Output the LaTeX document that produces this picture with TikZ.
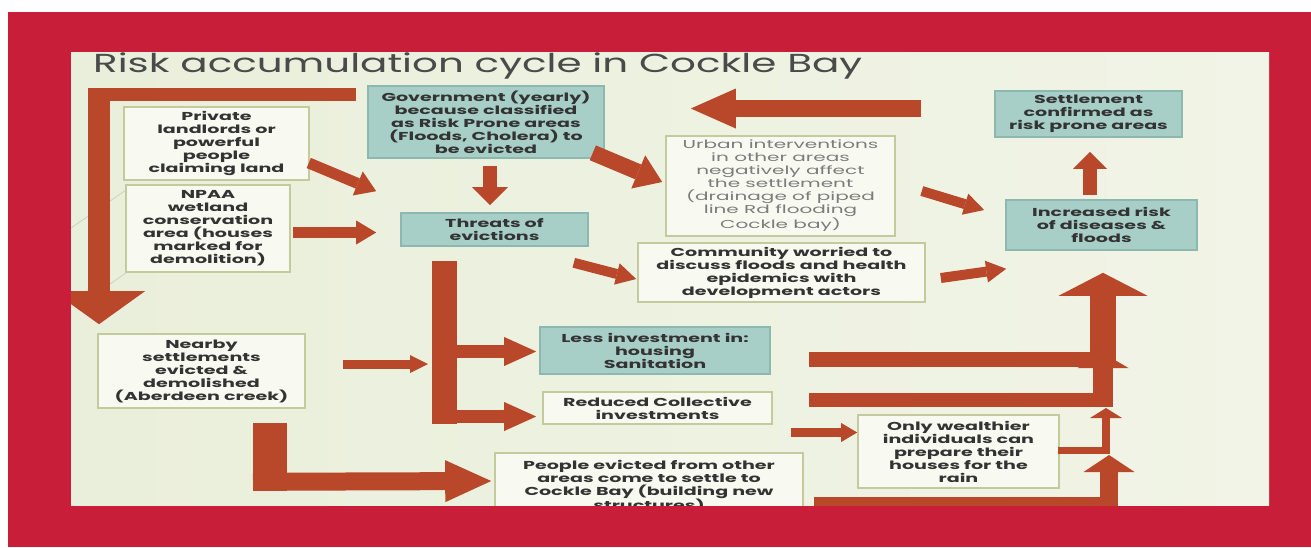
\documentclass[tikz,border=0pt]{standalone}
\usepackage{fontspec}
\usetikzlibrary{arrows.meta,calc}
\newfontfamily\boxfont[FakeStretch=1.66]{Poppins}
\newfontfamily\urbanfont[FakeStretch=1.74]{Poppins}
\newfontfamily\titlefont[FakeStretch=1.555]{Poppins}
\definecolor{framered}{HTML}{C81E3A}
\definecolor{cream}{HTML}{EAEFDB}
\definecolor{creamlight}{HTML}{F1F4E6}
\definecolor{arrowc}{HTML}{B9472A}
\definecolor{tealfill}{HTML}{A8CFC7}
\definecolor{tealline}{HTML}{8DB8AF}
\definecolor{wfill}{HTML}{F8F9F0}
\definecolor{wline}{HTML}{C4CA9C}
\definecolor{txt}{HTML}{333333}
\definecolor{txtlight}{HTML}{7C7C7C}
\definecolor{titlec}{HTML}{4A4A4A}
\definecolor{deco}{HTML}{CDD1C4}
\begin{document}
\begin{tikzpicture}[x=1pt,y=-1pt,
  box/.style={rectangle, inner sep=0pt, align=center, text=txt,
    font=\boxfont\bfseries\fontsize{11.5}{13}\selectfont, line width=1.6pt},
  tbox/.style={box, fill=tealfill, draw=tealline},
  wbox/.style={box, fill=wfill, draw=wline},
  ubox/.style={wbox, text=txtlight, font=\urbanfont\fontsize{11.5}{13}\selectfont},
  sz/.style 2 args={minimum width=#1, minimum height=#2},
  bar/.style={draw=arrowc, line width=#1},
  tipA/.style 2 args={-{Triangle[width=#1pt,length=#2pt,line width=0pt]}},
  ]
\useasboundingbox (0,0) rectangle (1311,547);
\fill[white] (0,0) rectangle (1311,547);
\fill[framered] (8,12) rectangle (1311,547);
\shade[left color=cream, right color=creamlight] (71,52) rectangle (1269,505);
\begin{scope}
\clip (71,52) rectangle (1269,505);
\draw[deco, line width=0.8] (71,228) -- (126,190);
\draw[deco, line width=0.8] (110,284) -- (126,273);

\node[anchor=base west, text=titlec, inner sep=0pt,
  font=\titlefont\fontsize{26}{30}\selectfont] (title) at (93,72)
  {Risk accumulation cycle in Cockle Bay};

\node[wbox, sz={185}{73}] (private) at (216.5,143.5)
  {Private\\landlords or\\powerful\\people\\claiming land};
\node[wbox, sz={164}{87}] (npaa) at (208,228.5)
  {NPAA\\wetland\\conservation\\area (houses\\marked for\\demolition)};
\node[tbox, sz={236}{72}] (gov) at (486,122)
  {Government (yearly)\\because classified\\as Risk Prone areas\\(Floods, Cholera) to\\be evicted};
\node[tbox, sz={187}{33}] (threats) at (494.5,229.5)
  {Threats of\\evictions};
\node[ubox, sz={229}{100}] (urban) at (780.5,186)
  {Urban interventions\\in other areas\\negatively affect\\the settlement\\(drainage of piped\\line Rd flooding\\Cockle bay)};
\node[tbox, sz={187}{46}] (settle) at (1088.5,114)
  {Settlement\\confirmed as\\risk prone areas};
\node[tbox, sz={191}{50}] (incr) at (1101.5,225)
  {Increased risk\\of diseases \&\\floods};
\node[wbox, sz={287}{59}] (comm) at (781.5,272.5)
  {Community worried to\\discuss floods and health\\epidemics with\\development actors};
\node[tbox, sz={230}{47}] (less) at (655,350.5)
  {Less investment in:\\housing\\Sanitation};
\node[wbox, sz={229}{32}] (reduced) at (657.5,408)
  {Reduced Collective\\investments};
\node[wbox, sz={201}{73}] (wealth) at (958.5,451.5)
  {Only wealthier\\individuals can\\prepare their\\houses for the\\rain};
\node[wbox, sz={308}{66}] (people) at (649,486)
  {People evicted from other\\areas come to settle to\\Cockle Bay (building new\\structures)};
\node[wbox, sz={207}{74}] (nearby) at (201.5,371)
  {Nearby\\settlements\\evicted \&\\demolished\\(Aberdeen creek)};

% top-left L arrow: government -> nearby settlements
\coordinate (cA) at (99,94.5);
\draw[bar=13] ($(gov.west|-cA)+(-11,0)$) -- ($(cA)+(-11,0)$);
\draw[bar=22, tipA={92}{33}] ($(cA)+(0,-6.5)$) -- ($(nearby.north)+(-102.5,-9)$);
% into threats
\draw[bar=11, tipA={26}{20}] ($(private.east)+(-1,19.5)$) -- ($(threats.north west)+(-24,-21)$);
\draw[bar=11, tipA={24}{20}] ($(npaa.east)+(2,4)$) -- ($(threats.west)+(-24,3)$);
\draw[bar=14, tipA={36}{18}] ($(gov.south)+(4,7)$) -- ($(threats.north)+(-4.5,-7)$);
% government -> urban
\draw[bar=16, tipA={36}{26}] ($(gov.south east)+(-12,-6)$) -- ($(urban.west)+(-3,-4)$);
% big left arrow
\draw[bar=17, tipA={40}{45}] ($(settle.west)+(-73,-5.5)$) -- ($(gov.east)+(86,-13.5)$);
% to increased risk
\draw[bar=10, tipA={22}{20}] ($(urban.east)+(26,5)$) -- ($(incr.west)+(-21,-15)$);
\draw[bar=10, tipA={22}{20}] ($(threats.south east)+(-15,16)$) -- ($(comm.west)+(-1,6.5)$);
\draw[bar=10, tipA={22}{20}] ($(comm.east)+(15,5.5)$) -- ($(incr.south west)+(1,18)$);
\draw[bar=14, tipA={34}{17}] ($(incr.north)+(-11.5,-4)$) -- ($(settle.south)+(1.5,14)$);
% threats down bar and branches
\coordinate (kTop) at ($(threats.south)+(-50,14)$);
\draw[bar=25] (kTop) -- ++(0,163);
\draw[bar=13, tipA={29}{32}] ($(kTop|-less.west)+(0,1)$) -- ($(less.west)+(-3,1)$);
\draw[bar=13, tipA={29}{32}] ($(kTop|-reduced.west)+(-12.5,8.5)$) -- ($(reduced.west)+(-6,8.5)$);
\draw[bar=9, tipA={18}{18}] ($(nearby.east)+(37,-7)$) -- ($(kTop|-nearby.east)+(-16.5,-7)$);
% nearby -> people evicted
\coordinate (mTop) at ($(nearby.south)+(68.5,14)$);
\draw[bar=34] (mTop) -- ++(0,68);
\draw[bar=18, tipA={42}{46}] ($(mTop)+(-17,59)$) -- ($(people.west)+(-3,-5)$);
% reduced -> wealthier
\draw[bar=9, tipA={19}{16}] ($(reduced.east)+(18,24.5)$) -- ($(wealth.west)+(0,-19)$);
% right side risers
\coordinate (r1) at ($(incr.south)+(1.5,22)$);
\draw[bar=15] ($(less.east)+(38,9)$) -- ($(r1|-less.east)+(13,9)$);
\draw[bar=26, tipA={89}{23}] ($(r1)+(0,95)$) -- (r1);
\coordinate (r2) at (1103,353);
\draw[bar=14] ($(reduced.east)+(36,-8)$) -- ($(r2|-reduced.east)+(10,-8)$);
\draw[bar=20, tipA={51}{15}] ($(r2)+(0,54)$) -- (r2);
\coordinate (r3) at (1106,408);
\draw[bar=7] ($(wealth.east)+(-2,-1.5)$) -- ($(r3|-wealth.east)+(4,-1.5)$);
\draw[bar=8, tipA={32}{10}] ($(r3)+(0,45.5)$) -- (r3);
\coordinate (r4) at (1109,455);
\draw[bar=16] ($(people.east)+(10,19)$) -- ($(r4|-people.east)+(9,19)$);
\draw[bar=18, tipA={51}{17}] ($(r4)+(0,58)$) -- (r4);
\end{scope}
\end{tikzpicture}
\end{document}
